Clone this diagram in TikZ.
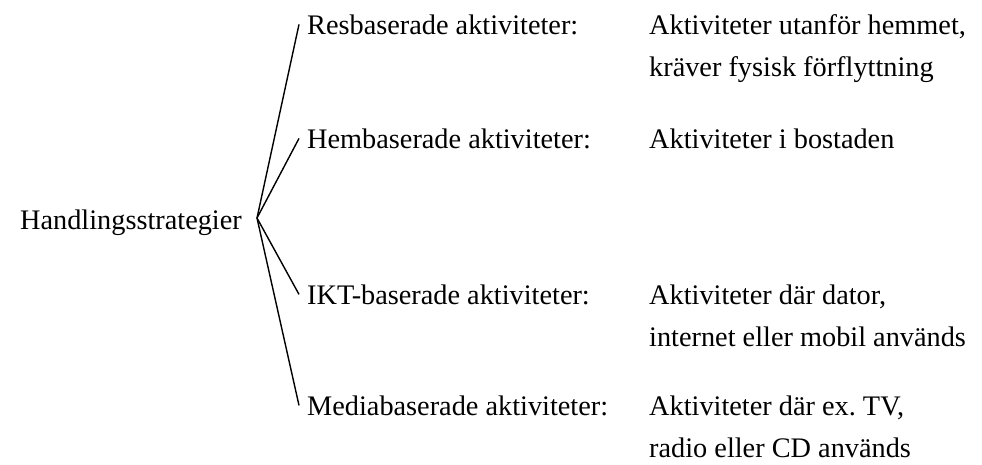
\documentclass[tikz,border=0pt]{standalone}
\usepackage{fontspec}
\setmainfont{Liberation Serif}
\usetikzlibrary{positioning,calc}

\begin{document}
\begin{tikzpicture}[x=1pt, y=-1pt,
		txt/.style={font=\fontsize{28.3}{42}\selectfont, inner sep=0pt, anchor=base west, align=left},
		lab/.style={txt, inner sep=8pt},
		branch/.style={line width=1.4pt}]

		\useasboundingbox (0,0) rectangle (982,464);

		\node [txt, anchor=base east] (root) at (242,229) {Handlingsstrategier};
		\coordinate (fork) at ($(root.base east)+(15,-11)$);

		\node [lab] (res) at (299,34) {Resbaserade aktiviteter:};
		\node [lab] (hem) at (299,148) {Hembaserade aktiviteter:};
		\node [lab] (ikt) at (299,304) {IKT-baserade aktiviteter:};
		\node [lab] (media) at (299,415) {Mediabaserade aktiviteter:};

		% base of a two-line node is its last line
		\node [txt] (resinfo) at (649,76) {Aktiviteter utanför hemmet,\\kräver fysisk förflyttning};
		\node [txt] (heminfo) at (649,148) {Aktiviteter i bostaden};
		\node [txt] (iktinfo) at (649,346) {Aktiviteter där dator,\\internet eller mobil används};
		\node [txt] (mediainfo) at (649,457) {Aktiviteter där ex.\ TV,\\radio eller CD används};

		\draw [branch] (fork) -- (res.west);
		\draw [branch] (fork) -- (hem.west);
		\draw [branch] (fork) -- (ikt.west);
		\draw [branch] (fork) -- (media.west);

	\end{tikzpicture}
\end{document}
